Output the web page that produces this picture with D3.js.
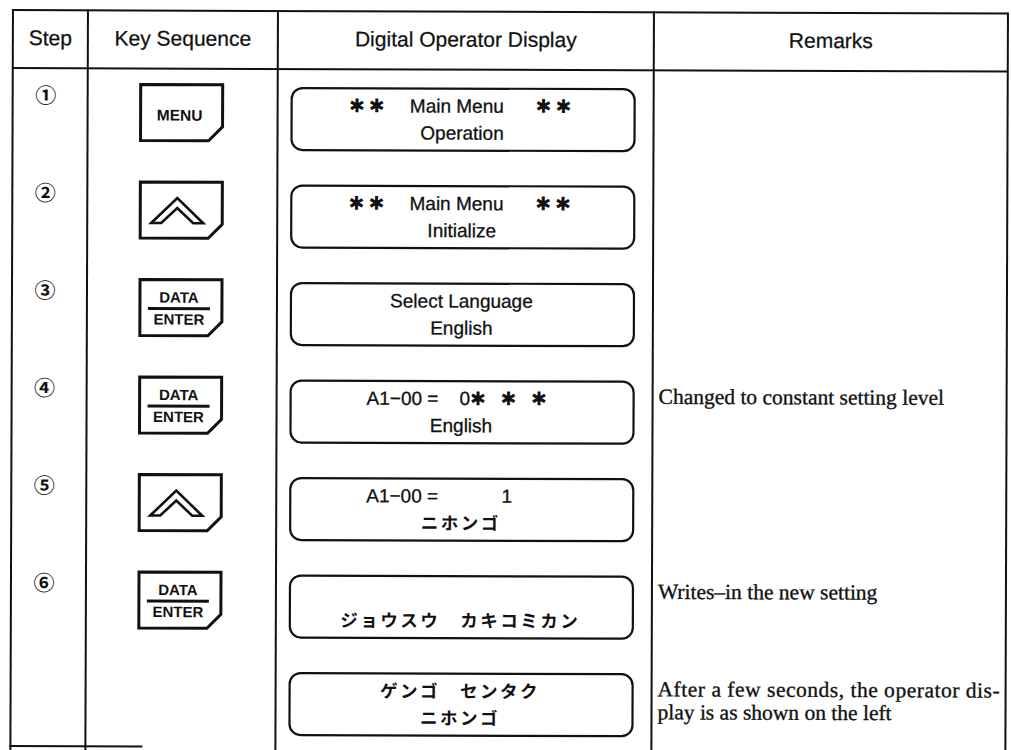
<!DOCTYPE html>
<html><head><meta charset="utf-8">
<script src="https://cdn.jsdelivr.net/npm/d3@7"></script>
<style>
html,body{margin:0;padding:0;background:#fff;}
svg{display:block}
text{white-space:pre}
</style></head><body>
<svg id="c" width="1011" height="750"></svg>
<script>
// ---- data ----
const headers = ["Step", "Key Sequence", "Digital Operator Display", "Remarks"];
const steps = ["①", "②", "③", "④", "⑤", "⑥", ""];
const keys = ["MENU", "UP", "DATA/ENTER", "DATA/ENTER", "UP", "DATA/ENTER", ""];
const displayLine1 = ["✱✱    Main Menu      ✱✱", "✱✱    Main Menu      ✱✱", "Select Language",
  "A1−00 =    0✱  ✱  ✱", "A1−00 =            1", "", "ゲンゴ　センタク"];
const displayLine2 = ["Operation", "Initialize", "English", "English", "ニホンゴ",
  "ジョウスウ　カキコミカン", "ニホンゴ"];
const remarks = [[], [], [], ["Changed to constant setting level"], [], ["Writes–in the new setting"],
  ["After a few seconds, the operator dis-", "play is as shown on the left"]];

// ---- layout ----
const colEdges = [13, 88, 278, 654, 1008];
const tableTop = 10, headerBottom = 68, tableBottom = 752;
const rowIdx = d3.range(steps.length);
const yRow = d3.scaleLinear().domain([0, steps.length - 1]).range([87, 672]);
const boxX = 292, boxW = 343, boxH = 62;
const keyX = 141, keyW = 82, keyH = 56, cut = 14;
const INK = "#111";
const SANS = "'Liberation Sans', Arial, Helvetica, sans-serif";
const SERIF = "'Liberation Serif', 'Times New Roman', serif";
const CJK = "'Noto Sans CJK JP', sans-serif";
const SYM = "'DejaVu Sans', sans-serif";
const isCJK = s => /[\u3040-\u30ff]/.test(s);

const svg = d3.select("#c");
svg.append("rect").attr("width", 1011).attr("height", 750).attr("fill", "#fff");
const g = svg.append("g").attr("transform", "rotate(0.2)");

// table rules
const hLines = [[tableTop, colEdges[0], colEdges[4]], [headerBottom, colEdges[0], colEdges[4]], [746, colEdges[0] - 1, 145]];
g.selectAll("line.h").data(hLines).join("line").attr("class", "h")
  .attr("x1", d => d[1]).attr("x2", d => d[2]).attr("y1", d => d[0]).attr("y2", d => d[0])
  .attr("stroke", INK).attr("stroke-width", 2);
g.selectAll("line.v").data(colEdges).join("line").attr("class", "v")
  .attr("x1", d => d).attr("x2", d => d).attr("y1", tableTop - 1).attr("y2", tableBottom)
  .attr("stroke", INK).attr("stroke-width", 2);

// headers
g.selectAll("text.hd").data(headers).join("text").attr("class", "hd")
  .attr("x", (d, i) => (colEdges[i] + colEdges[i + 1]) / 2).attr("y", 45)
  .attr("text-anchor", "middle").attr("font-family", SANS).attr("font-size", 21)
  .attr("fill", INK).attr("stroke", INK).attr("stroke-width", 0.25).text(d => d);

// step numbers
g.selectAll("text.step").data(rowIdx.filter(i => steps[i])).join("text").attr("class", "step")
  .attr("x", 46).attr("y", i => yRow(i) + 16).attr("text-anchor", "middle")
  .attr("font-family", CJK).attr("font-size", 21).attr("font-weight", "bold")
  .attr("fill", INK).text(i => steps[i]);

// keys
const keyG = g.selectAll("g.key").data(rowIdx.filter(i => keys[i])).join("g").attr("class", "key")
  .attr("transform", i => `translate(${keyX},${yRow(i) - 3})`);
keyG.append("path")
  .attr("d", `M0,0H${keyW}V${keyH - cut}L${keyW - cut},${keyH}H0Z`)
  .attr("fill", "#fff").attr("stroke", INK).attr("stroke-width", 3).attr("stroke-linejoin", "miter");
keyG.each(function (i) {
  const k = d3.select(this);
  const t = keys[i];
  if (t === "MENU") {
    k.append("text").attr("x", 39).attr("y", 36).attr("text-anchor", "middle")
      .attr("font-family", SANS).attr("font-weight", "bold").attr("font-size", 15.5)
      .attr("fill", INK).text("MENU");
  } else if (t === "UP") {
    const cx = 37, top = 16, base = 41, hw = 26, iw = 16, inner = 26;
    k.append("path")
      .attr("d", `M${cx - hw},${base}L${cx},${top}L${cx + hw},${base}L${cx + iw},${base}L${cx},${inner}L${cx - iw},${base}Z`)
      .attr("fill", "#fff").attr("stroke", INK).attr("stroke-width", 2.6).attr("stroke-linejoin", "miter");
  } else {
    const [a, b] = t.split("/");
    k.append("text").attr("x", 39).attr("y", 23).attr("text-anchor", "middle")
      .attr("font-family", SANS).attr("font-weight", "bold").attr("font-size", 15)
      .attr("fill", INK).text(a);
    k.append("line").attr("x1", 8).attr("x2", 70).attr("y1", 29).attr("y2", 29)
      .attr("stroke", INK).attr("stroke-width", 3);
    k.append("text").attr("x", 39).attr("y", 45).attr("text-anchor", "middle")
      .attr("font-family", SANS).attr("font-weight", "bold").attr("font-size", 15)
      .attr("fill", INK).text(b);
  }
});

// display boxes
const boxG = g.selectAll("g.box").data(rowIdx).join("g").attr("class", "box")
  .attr("transform", i => `translate(${boxX},${yRow(i)})`);
boxG.append("rect").attr("width", boxW).attr("height", boxH).attr("rx", 11).attr("ry", 11)
  .attr("fill", "#fff").attr("stroke", INK).attr("stroke-width", 2.2);
function drawLine(sel, s, y) {
  if (!s) return;
  const cjk = isCJK(s);
  const leftAligned = s.startsWith("A1");
  const t = sel.append("text")
    .attr("x", leftAligned ? 76 : boxW / 2 - 1).attr("y", y)
    .attr("text-anchor", leftAligned ? "start" : "middle")
    .attr("font-family", cjk ? CJK : SANS)
    .attr("font-weight", cjk ? "bold" : "normal")
    .attr("font-size", cjk ? 17.5 : 19)
    .attr("letter-spacing", cjk ? 2.5 : 0)
    .attr("fill", INK);
  if (!cjk) t.attr("stroke", INK).attr("stroke-width", 0.3);
  // split into asterisk symbol runs and plain runs
  const parts = s.split(/(✱+)/).filter(p => p.length);
  parts.forEach(p => {
    const ts = t.append("tspan").text(p);
    if (p.startsWith("✱")) ts.attr("font-family", SYM).attr("font-size", 19)
      .attr("letter-spacing", 4).attr("stroke-width", 0);
  });
}
boxG.each(function (i) {
  const b = d3.select(this);
  drawLine(b, displayLine1[i], 24);
  drawLine(b, displayLine2[i], 51);
});

// remarks
rowIdx.forEach(i => {
  const lines = remarks[i];
  lines.forEach((s, j) => {
    const t = g.append("text").attr("x", 660).attr("y", yRow(i) + 22 + j * 23)
      .attr("font-family", SERIF).attr("font-size", 21.5).attr("fill", INK)
      .attr("stroke", INK).attr("stroke-width", 0.35).text(s);
    if (lines.length > 1 && j < lines.length - 1) t.attr("textLength", 342).attr("lengthAdjust", "spacing");
  });
});
</script>
</body></html>
